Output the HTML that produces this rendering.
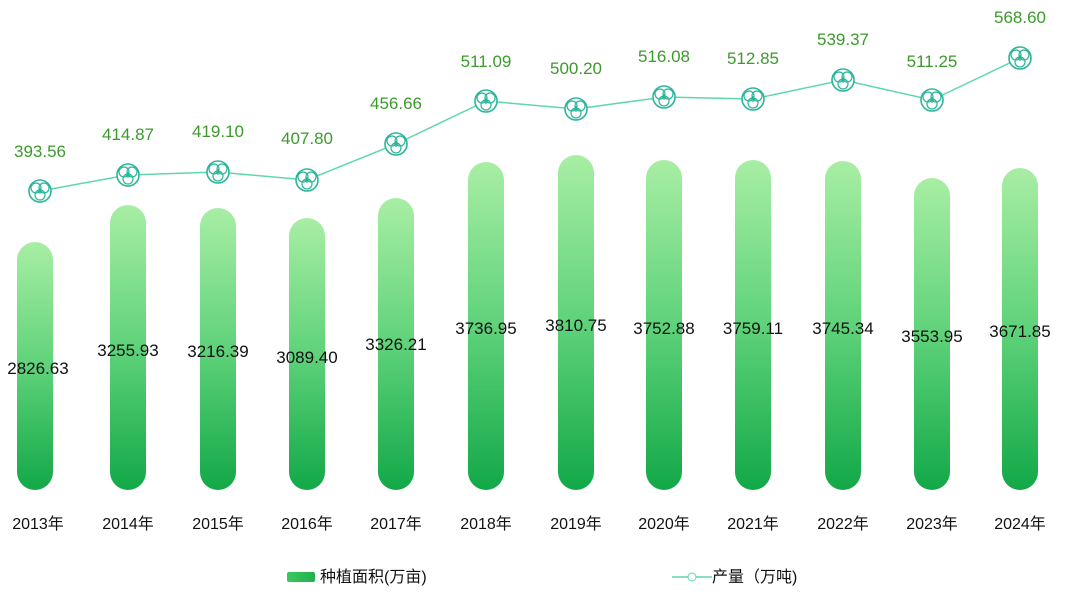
<!DOCTYPE html>
<html><head><meta charset="utf-8"><style>
body{margin:0;background:#fff;width:1080px;height:596px;overflow:hidden}
text{font-family:"Liberation Sans","Noto Sans CJK SC",sans-serif}
</style></head><body>
<svg width="1080" height="596" viewBox="0 0 1080 596" xmlns="http://www.w3.org/2000/svg">
<defs>
<linearGradient id="g" x1="0" y1="0" x2="0" y2="1">
<stop offset="0" stop-color="#a8eea4"/><stop offset="0.5" stop-color="#5fd27a"/><stop offset="1" stop-color="#12a848"/>
</linearGradient>
<linearGradient id="lg" x1="0" y1="0" x2="1" y2="0">
<stop offset="0" stop-color="#3cc860"/><stop offset="1" stop-color="#22b04e"/>
</linearGradient>
<g id="m"><circle r="11" fill="#fff" stroke="#2bb59a" stroke-width="1.6"/><circle cx="-4" cy="-3" r="5" fill="none" stroke="#2bb59a" stroke-width="1.2"/><circle cx="4" cy="-3" r="5" fill="none" stroke="#2bb59a" stroke-width="1.2"/><circle cx="0" cy="4" r="5" fill="none" stroke="#2bb59a" stroke-width="1.2"/><path d="M-3 0L3 0M0 -3L0 3" stroke="#2bb59a" stroke-width="1.2"/></g>
</defs>
<g fill="url(#g)">
<rect x="17" y="242" width="36" height="248" rx="18"/>
<rect x="110" y="205" width="36" height="285" rx="18"/>
<rect x="200" y="208" width="36" height="282" rx="18"/>
<rect x="289" y="218" width="36" height="272" rx="18"/>
<rect x="378" y="198" width="36" height="292" rx="18"/>
<rect x="468" y="162" width="36" height="328" rx="18"/>
<rect x="558" y="155" width="36" height="335" rx="18"/>
<rect x="646" y="160" width="36" height="330" rx="18"/>
<rect x="735" y="160" width="36" height="330" rx="18"/>
<rect x="825" y="161" width="36" height="329" rx="18"/>
<rect x="914" y="178" width="36" height="312" rx="18"/>
<rect x="1002" y="168" width="36" height="322" rx="18"/>
</g>
<g font-size="17" fill="#111" text-anchor="middle">
<text x="38" y="374">2826.63</text><text x="128" y="356">3255.93</text><text x="218" y="357">3216.39</text><text x="307" y="363">3089.40</text><text x="396" y="350">3326.21</text><text x="486" y="334">3736.95</text><text x="576" y="331">3810.75</text><text x="664" y="334">3752.88</text><text x="753" y="334">3759.11</text><text x="843" y="334">3745.34</text><text x="932" y="342">3553.95</text><text x="1020" y="337">3671.85</text>
</g>
<polyline fill="none" stroke="#5fd8a8" stroke-width="1.5" points="40,191 128,175 218,172 307,180 396,144 486,101 576,109 664,97 753,99 843,80 932,100 1020,58"/>
<g>
<use href="#m" x="40" y="191"/><use href="#m" x="128" y="175"/><use href="#m" x="218" y="172"/><use href="#m" x="307" y="180"/><use href="#m" x="396" y="144"/><use href="#m" x="486" y="101"/><use href="#m" x="576" y="109"/><use href="#m" x="664" y="97"/><use href="#m" x="753" y="99"/><use href="#m" x="843" y="80"/><use href="#m" x="932" y="100"/><use href="#m" x="1020" y="58"/>
</g>
<g font-size="17" fill="#3c9a2c" text-anchor="middle">
<text x="40" y="157">393.56</text><text x="128" y="140">414.87</text><text x="218" y="137">419.10</text><text x="307" y="144">407.80</text><text x="396" y="109">456.66</text><text x="486" y="67">511.09</text><text x="576" y="74">500.20</text><text x="664" y="62">516.08</text><text x="753" y="64">512.85</text><text x="843" y="45">539.37</text><text x="932" y="67">511.25</text><text x="1020" y="23">568.60</text>
</g>
<g font-size="16" fill="#111" text-anchor="middle">
<text x="38" y="529">2013年</text><text x="128" y="529">2014年</text><text x="218" y="529">2015年</text><text x="307" y="529">2016年</text><text x="396" y="529">2017年</text><text x="486" y="529">2018年</text><text x="576" y="529">2019年</text><text x="664" y="529">2020年</text><text x="753" y="529">2021年</text><text x="843" y="529">2022年</text><text x="932" y="529">2023年</text><text x="1020" y="529">2024年</text>
</g>
<rect x="287" y="572" width="28" height="10" rx="2" fill="url(#lg)"/>
<text x="320" y="582" font-size="16" fill="#111">种植面积(万亩)</text>
<line x1="672" y1="577" x2="712" y2="577" stroke="#5fd8a8" stroke-width="1.5"/>
<circle cx="692" cy="577" r="4" fill="#fff" stroke="#5fd8a8"/>
<text x="712" y="582" font-size="16" fill="#111">产量（万吨)</text>
</svg>
</body></html>
